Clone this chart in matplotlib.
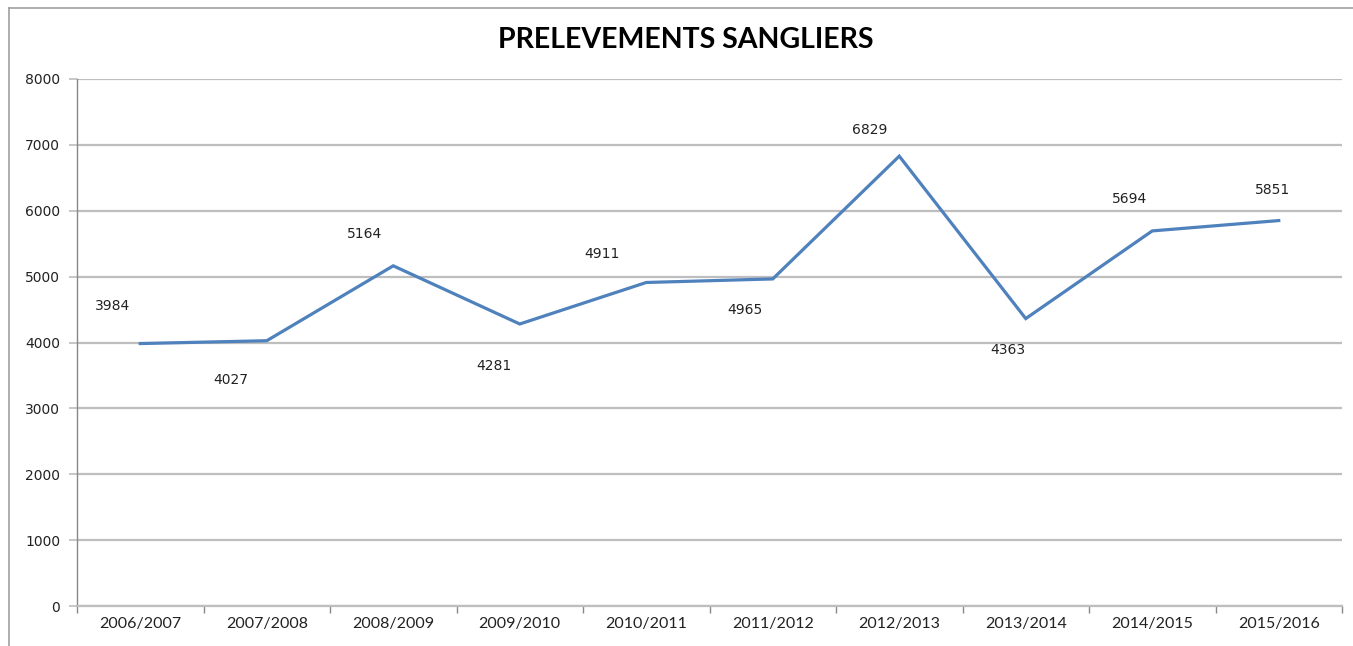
import matplotlib.pyplot as plt
from matplotlib.lines import Line2D

# Données
saisons = ['2006/2007', '2007/2008', '2008/2009', '2009/2010', '2010/2011',
           '2011/2012', '2012/2013', '2013/2014', '2014/2015', '2015/2016']
prelevements = [3984, 4027, 5164, 4281, 4911, 4965, 6829, 4363, 5694, 5851]

# décalage des étiquettes (pixels) par rapport aux points
decalages = [(-28, 38), (-36, -39), (-29, 32), (-26, -42), (-44, 28),
             (-28, -31), (-30, 26), (-18, -31), (-23, 32), (-6, 31)]

fig = plt.figure(figsize=(13.53, 6.46), dpi=100)
ax = fig.add_axes([77 / 1353, 40 / 646, (1342 - 77) / 1353, (606 - 79) / 646])

x = list(range(len(saisons)))
ax.plot(x, prelevements, color='#4F81BD', linewidth=2.3, solid_joinstyle='miter', zorder=3)

for xi, val, (dx, dy) in zip(x, prelevements, decalages):
    ax.annotate(str(val), (xi, val), xytext=(dx, dy), textcoords='offset pixels',
                ha='center', va='center', fontsize=10, family='DejaVu Sans', color='#222222')

ax.set_xlim(-0.5, len(saisons) - 0.5)
ax.set_ylim(0, 8000)
ax.set_yticks(range(0, 8001, 1000))
ax.set_yticklabels([str(v) for v in range(0, 8001, 1000)], fontsize=10,
                   family='DejaVu Sans', color='#222222')
ax.yaxis.grid(True, color='#BEBEBE', linewidth=1.6)
ax.set_axisbelow(True)
ax.tick_params(axis='y', length=6, width=1.2, color='#BEBEBE', pad=6)

# ticks x entre les catégories
ax.set_xticks([i - 0.5 for i in range(len(saisons) + 1)])
ax.set_xticklabels([])
ax.set_xticks(x, minor=True)
ax.set_xticklabels(saisons, minor=True, fontsize=11.5, family='Lato', color='#222222')
ax.tick_params(axis='x', which='major', length=5, width=1, color='#888888')
ax.tick_params(axis='x', which='minor', length=0, pad=8)

for s in ['top', 'right']:
    ax.spines[s].set_visible(False)
ax.spines['left'].set_color('#888888')
ax.spines['left'].set_linewidth(1)
ax.spines['bottom'].set_color('#BEBEBE')
ax.spines['bottom'].set_linewidth(1.6)

fig.text(686 / 1353, 1 - 40 / 646, 'PRELEVEMENTS SANGLIERS', ha='center', va='center',
         fontsize=20.5, fontweight='bold', family='Lato', color='black')

# bordure du graphique (haut et gauche)
fig.add_artist(Line2D([9 / 1353, 1], [1 - 8 / 646, 1 - 8 / 646], color='#A0A0A0', linewidth=1.2))
fig.add_artist(Line2D([9 / 1353, 9 / 1353], [0, 1 - 8 / 646], color='#A0A0A0', linewidth=1.2))

fig.savefig('out.png', dpi=100)
